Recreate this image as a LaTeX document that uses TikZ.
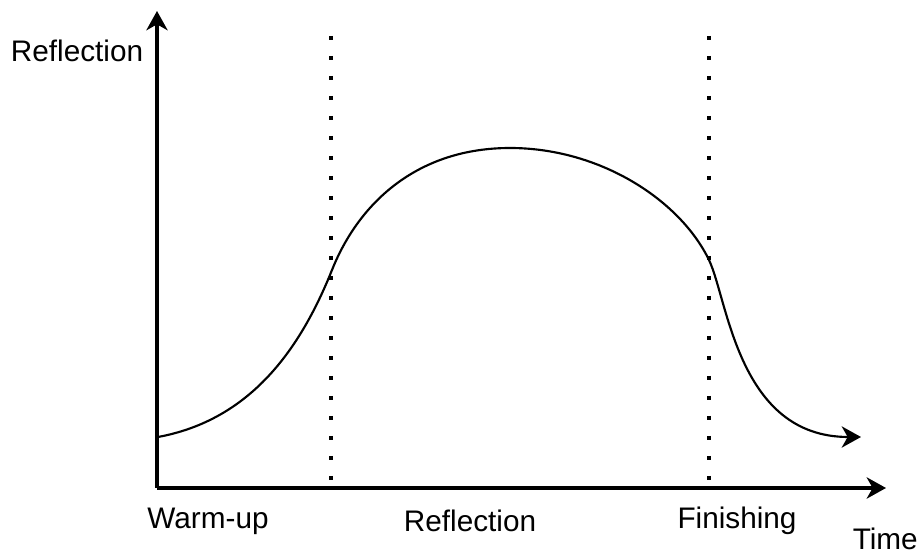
\documentclass[tikz,border=0pt]{standalone}
\usepackage{fontspec}
\setmainfont{Liberation Sans}
\usepackage{tikz}
\usetikzlibrary{arrows.meta, positioning, calc}

\begin{document}
\begin{tikzpicture}[
    x=0.75pt, y=-0.75pt,
    axis/.style={line width=2.4pt, -{Stealth[length=14.5pt, width=16pt, inset=4.5pt]}},
    phase/.style={line width=2.7pt, dash pattern=on 2.7pt off 12.3pt},
    trend/.style={line width=1.6pt, -{Stealth[length=14.5pt, width=16pt, inset=4.5pt]}},
    lbl/.style={font=\fontsize{22.3}{26}\selectfont, inner sep=0pt},
]
    \useasboundingbox (0,0) rectangle (922,555);
    % axes
    \coordinate (origin) at (157,488);
    \coordinate (ytop) at (157,11);
    \coordinate (xend) at (886,488);
    \draw[axis] (origin) -- (ytop);
    \draw[axis] (origin) -- (xend);
    \node[lbl] (ylabel) at (77,51) {Reflection};
    \node[lbl, anchor=base east] (xlabel) at (918,550) {Time};
    % phase borders
    \coordinate (b1top) at (331,36);
    \coordinate (b1bot) at (331,488);
    \coordinate (b2top) at (709,36);
    \coordinate (b2bot) at (709,488);
    \draw[phase] (b1top) -- (b1bot);
    \draw[phase] (b2top) -- (b2bot);
    \node[lbl] (warmup) at (208,521) {Warm-up};
    \node[lbl] (reflect) at (470,521) {Reflection};
    \node[lbl] (finish) at (737,521) {Finishing};
    % reflection curve
    \coordinate (c0) at (158,437);
    \coordinate (c1) at (332,270);
    \coordinate (peak) at (510,148);
    \coordinate (c2) at (709,260);
    \coordinate (cend) at (861,437);
    \draw[trend] (c0) .. controls (250,420) and (300,350) .. (c1)
        .. controls (360,200) and (420,148) .. (peak)
        .. controls (600,148) and (680,200) .. (c2)
        .. controls (728,300) and (738,437) .. (cend);
\end{tikzpicture}
\end{document}
